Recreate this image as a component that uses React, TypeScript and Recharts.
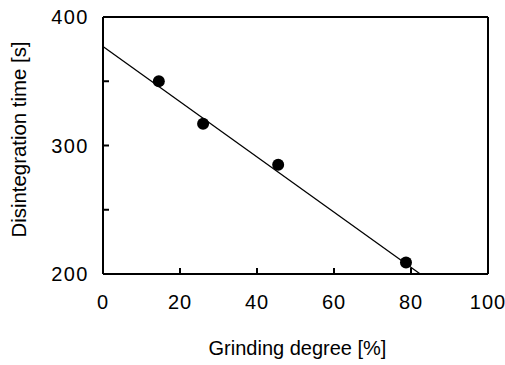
import React from 'react';
import {
  ScatterChart,
  Scatter,
  XAxis,
  YAxis,
  ReferenceLine,
} from 'recharts';

// measured points
const grinding = [14.5, 26, 45.5, 78.7];
const disintegration = [350, 317, 285, 209];

// fitted line end points
const fitX = [0, 82.4];
const fitY = [377, 200];

const xTicks = [0, 20, 40, 60, 80, 100];
const yTicks = [200, 250, 300, 350, 400];
const yLabels = [200, 300, 400];

const points = grinding.map((x, i) => ({ x, y: disintegration[i] }));
const fitSegment = fitX.map((x, i) => ({ x, y: fitY[i] }));

const FONT = 'Liberation Sans, Arial, Helvetica, sans-serif';

const XTitle = ({ viewBox }: any) => (
  <text
    x={viewBox.x + viewBox.width / 2 + 2}
    y={viewBox.y + viewBox.height - 10}
    textAnchor="middle"
    fill="#000"
    fontSize={20}
    fontFamily={FONT}
  >
    Grinding degree [%]
  </text>
);

const YTitle = ({ viewBox }: any) => {
  const cx = 19;
  const cy = viewBox.y + viewBox.height / 2 - 6;
  return (
    <text
      x={cx}
      y={cy}
      dy="0.355em"
      transform={`rotate(-90, ${cx}, ${cy})`}
      textAnchor="middle"
      fill="#000"
      fontSize={20.4}
      fontFamily={FONT}
    >
      Disintegration time [s]
    </text>
  );
};

export default function App() {
  return (
    <div style={{ position: 'absolute', left: 0, top: 0, background: '#fff' }}>
      <ScatterChart
        width={505}
        height={365}
        margin={{ top: 16, right: 16, bottom: 0, left: 0 }}
      >
        <XAxis
          xAxisId="bottom"
          type="number"
          dataKey="x"
          domain={[0, 100]}
          ticks={xTicks}
          orientation="bottom"
          height={91}
          stroke="#000"
          strokeWidth={2}
          tickSize={-6}
          tickMargin={27}
          tick={{ fill: '#000', fontSize: 20, fontFamily: FONT, letterSpacing: 1 }}
          label={<XTitle />}
        />
        <XAxis
          xAxisId="top"
          type="number"
          dataKey="x"
          domain={[0, 100]}
          ticks={xTicks}
          orientation="top"
          height={1}
          stroke="#000"
          strokeWidth={2}
          tickSize={-6}
          tickFormatter={() => ''}
        />
        <YAxis
          yAxisId="left"
          type="number"
          dataKey="y"
          domain={[200, 400]}
          ticks={yTicks}
          width={103}
          stroke="#000"
          strokeWidth={2}
          tickSize={-6}
          tickMargin={20}
          tickFormatter={(v: number) => (yLabels.includes(v) ? String(v) : '')}
          tick={{ fill: '#000', fontSize: 20, fontFamily: FONT, letterSpacing: 1.5 }}
          label={<YTitle />}
        />
        <YAxis
          yAxisId="right"
          orientation="right"
          type="number"
          dataKey="y"
          domain={[200, 400]}
          ticks={yTicks}
          width={1}
          stroke="#000"
          strokeWidth={2}
          tickSize={-6}
          tickFormatter={() => ''}
        />
        <ReferenceLine
          xAxisId="bottom"
          yAxisId="left"
          segment={fitSegment}
          stroke="#000"
          strokeWidth={1.3}
          ifOverflow="extendDomain"
        />
        <Scatter
          xAxisId="bottom"
          yAxisId="left"
          data={points}
          fill="#000"
          isAnimationActive={false}
          shape={(p: any) => <circle cx={p.cx} cy={p.cy} r={6} fill="#000" />}
        />
      </ScatterChart>
    </div>
  );
}
